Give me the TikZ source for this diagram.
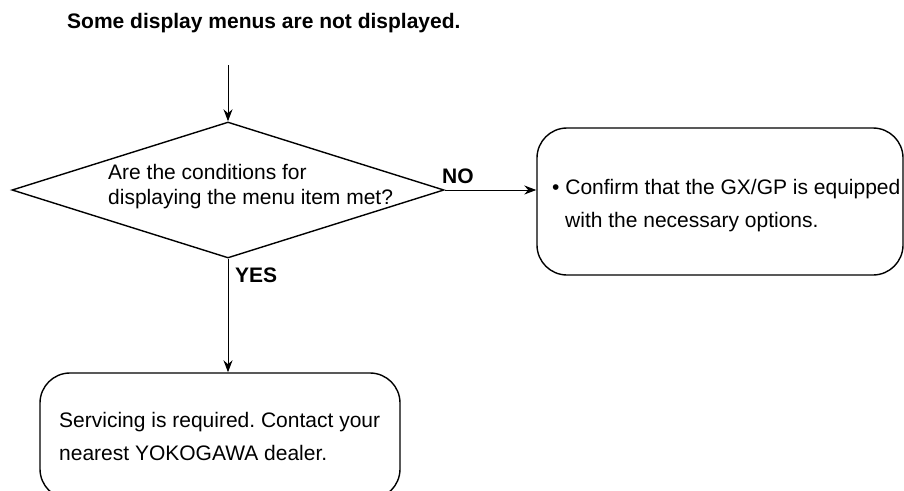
\documentclass[tikz,border=0pt]{standalone}
\usepackage{fontspec}
\setmainfont{Liberation Sans}
\frenchspacing
\usetikzlibrary{shapes.geometric,arrows.meta}
\tikzset{
  txt/.style={anchor=base west,inner sep=0,font=\fontsize{21}{25}\selectfont},
  btxt/.style={txt,font=\fontsize{21}{25}\selectfont\bfseries},
  decision/.style={draw,diamond,line width=1.4pt,inner sep=0,minimum width=432pt,minimum height=136pt},
  rbox/.style={draw,rectangle,rounded corners=30pt,line width=1.4pt,inner sep=0},
  conn/.style={line width=1pt,-{Stealth[length=12pt,width=9pt]}}
}
\begin{document}
\begin{tikzpicture}[x=1pt,y=-1pt]
\useasboundingbox (0,0) rectangle (904,490);
\clip (0,0) rectangle (904,490);
\node[btxt] (title) at (67,28) {Some display menus are not displayed.};
\coordinate (start) at (228,65);
\node[decision] (dec) at (228,190) {};
\node[txt] (q1) at (108,179) {Are the conditions for};
\node[txt] (q2) at (108,204) {displaying the menu item met?};
\node[rbox,minimum width=366pt,minimum height=147pt] (rb) at (720,201.5) {};
\node[txt] (r1) at (552,194) {• Confirm that the GX/GP is equipped};
\node[txt] (r2) at (565,227) {with the necessary options.};
\node[rbox,minimum width=360pt,minimum height=126pt] (bb) at (220,436) {};
\node[txt] (b1) at (59,427) {Servicing is required. Contact your};
\node[txt] (b2) at (59,460) {nearest YOKOGAWA dealer.};
\node[btxt] (no) at (442,183) {NO};
\node[btxt] (yes) at (235,282) {YES};
\draw[conn] (start) -- (dec.north);
\draw[conn] (dec.east) -- (dec.east -| rb.west);
\draw[conn] (dec.south) -- (dec.south |- bb.north);
\end{tikzpicture}
\end{document}
